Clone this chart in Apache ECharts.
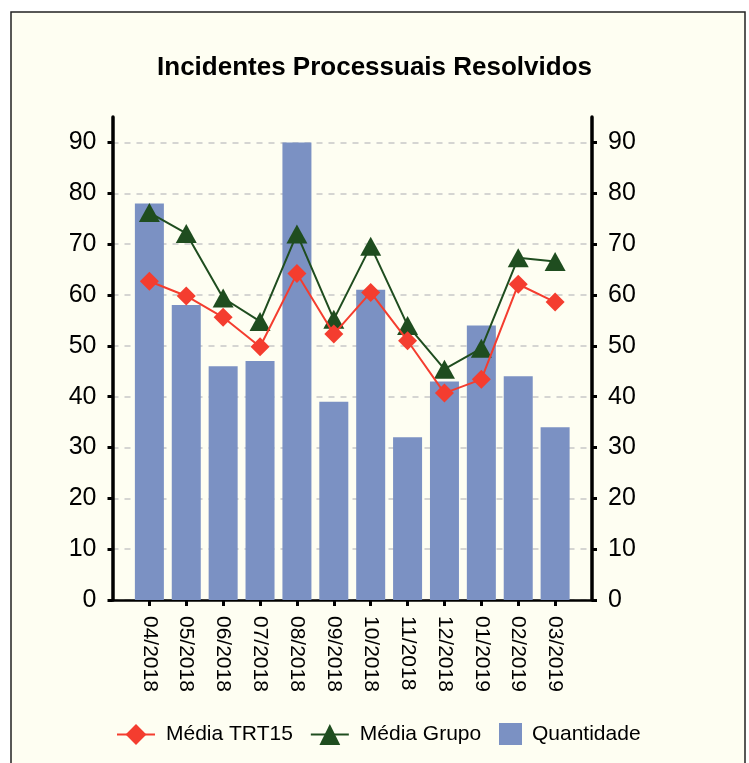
<!DOCTYPE html>
<html><head><meta charset="utf-8">
<script src="https://cdn.jsdelivr.net/npm/echarts@6/dist/echarts.min.js"></script>
<style>html,body{margin:0;padding:0;background:#fff}#c{width:749px;height:763px}</style>
</head><body><div id="c"></div>
<script>
const months = ['04/2018','05/2018','06/2018','07/2018','08/2018','09/2018','10/2018','11/2018','12/2018','01/2019','02/2019','03/2019'];
const quantidade = [78, 58, 46, 47, 90, 39, 61, 32, 43, 54, 44, 34];
const mediaTRT15 = [62.7, 59.8, 55.6, 49.8, 64.2, 52.3, 60.5, 51.0, 40.7, 43.4, 62.1, 58.6];
const mediaGrupo = [76.2, 72.1, 59.4, 54.8, 72.0, 55.2, 69.6, 54.0, 45.4, 49.5, 67.3, 66.6];
const yTicks = [0, 10, 20, 30, 40, 50, 60, 70, 80, 90];

const FONT = "'Liberation Sans', Arial, sans-serif";
const pad = a => [null].concat(a, [null]);
const cats = [''].concat(months, ['']);

const yAxisCommon = {
  type: 'value', min: 0, max: 95,
  axisLine: { show: true, lineStyle: { color: '#000', width: 3.5 } },
  axisTick: { show: true, length: 5, lineStyle: { color: '#000', width: 3 }, customValues: yTicks },
  axisLabel: { fontSize: 25, color: '#000', fontFamily: FONT, margin: 16, customValues: yTicks },
  splitLine: { show: false }
};

const chart = echarts.init(document.getElementById('c'), null, { renderer: 'canvas' });
chart.setOption({
  backgroundColor: '#ffffff',
  animation: false,
  graphic: [{
    type: 'rect', z: -10, silent: true,
    shape: { x: 11, y: 12, width: 734, height: 770 },
    style: { fill: '#fefef2', stroke: '#222', lineWidth: 1.5 }
  }],
  title: {
    text: 'Incidentes Processuais Resolvidos',
    left: 'center', top: 50,
    textStyle: { fontSize: 26, fontWeight: 'bold', color: '#000', fontFamily: FONT }
  },
  legend: [{
    data: ['Média TRT15', 'Média Grupo'],
    left: 111, top: 719,
    itemWidth: 38, itemHeight: 26, itemGap: 17,
    textStyle: { fontSize: 21, color: '#000', fontFamily: FONT, padding: [0, 0, 0, 6] }
  }, {
    data: [{ name: 'Quantidade', icon: 'rect' }],
    left: 494, top: 718,
    itemWidth: 23, itemHeight: 22,
    textStyle: { fontSize: 21, color: '#000', fontFamily: FONT, padding: [0, 0, 0, 5] }
  }],
  grid: { left: 112.5, right: 157, top: 117, bottom: 163, containLabel: false },
  xAxis: {
    type: 'category', data: cats, boundaryGap: false,
    axisLine: { show: true, lineStyle: { color: '#000', width: 2.5 } },
    axisTick: { show: true, length: 6, lineStyle: { color: '#000', width: 3 },
      interval: (i) => i > 0 && i < cats.length - 1 },
    axisLabel: { rotate: -90, fontSize: 21, color: '#000', fontFamily: FONT, margin: 16, interval: 0 },
    splitLine: { show: false }
  },
  yAxis: [
    Object.assign({}, yAxisCommon, { position: 'left' }),
    Object.assign({}, yAxisCommon, { position: 'right' })
  ],
  series: [{
    name: 'Quantidade', type: 'bar', data: pad(quantidade), barWidth: 29,
    itemStyle: { color: '#7b91c3' },
    markLine: {
      silent: true, symbol: 'none', label: { show: false }, z: 0,
      lineStyle: { color: '#c8c8c8', type: [6, 6], width: 1.5 },
      data: yTicks.map(v => ({ yAxis: v }))
    },
    z: 1
  }, {
    name: 'Média TRT15', type: 'line', data: pad(mediaTRT15),
    symbol: 'diamond', symbolSize: 19,
    lineStyle: { color: '#f43d2f', width: 2 },
    itemStyle: { color: '#f43d2f' },
    z: 4
  }, {
    name: 'Média Grupo', type: 'line', data: pad(mediaGrupo),
    symbol: 'triangle', symbolSize: [21, 19],
    lineStyle: { color: '#1f4d1f', width: 2 },
    itemStyle: { color: '#1f4d1f' },
    z: 3
  }]
});
</script></body></html>
